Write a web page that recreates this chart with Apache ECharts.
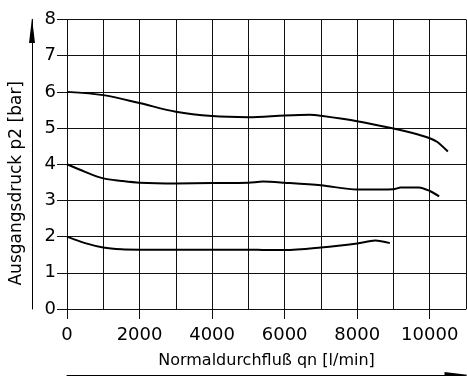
<!DOCTYPE html>
<html>
<head>
<meta charset="utf-8">
<script src="https://cdn.jsdelivr.net/npm/echarts@6/dist/echarts.min.js"></script>
<style>html,body{margin:0;padding:0;background:#fff}#c{width:467px;height:376px}</style>
</head>
<body>
<div id="c"></div>
<script>
// Flow rate (l/min) / outlet pressure (bar) pairs for each curve
const flow6 = [0, 1000, 2000, 3000, 4000, 5000, 6000, 6700, 7000, 8000, 9000, 9500, 10000, 10200, 10500];
const pres6 = [6.0, 5.91, 5.69, 5.45, 5.33, 5.30, 5.35, 5.37, 5.34, 5.19, 4.99, 4.87, 4.72, 4.62, 4.35];

const flow4 = [0, 500, 1000, 1500, 2000, 3000, 4000, 5000, 5400, 6000, 7000, 8000, 9000, 9200, 9700, 10000, 10260];
const pres4 = [4.0, 3.79, 3.61, 3.54, 3.49, 3.47, 3.48, 3.49, 3.52, 3.49, 3.42, 3.30, 3.31, 3.36, 3.36, 3.26, 3.11];

const flow2 = [0, 500, 1000, 1500, 2000, 3000, 4000, 5000, 5500, 6000, 7000, 8000, 8500, 8900];
const pres2 = [2.0, 1.82, 1.70, 1.65, 1.64, 1.64, 1.64, 1.64, 1.63, 1.63, 1.70, 1.81, 1.89, 1.82];

const xLabelTicks = [0, 2000, 4000, 6000, 8000, 10000];
const xName = 'Normaldurchfluß qn [l/min]';
const yName = 'Ausgangsdruck p2 [bar]';

function pairs(xs, ys) { return xs.map((x, i) => [x, ys[i]]); }

const chart = echarts.init(document.getElementById('c'), null, {renderer: 'canvas'});
const FONT = 'DejaVu Sans';
const GRID = '#111';
const lineStyle = {color: '#000', width: 2};
chart.setOption({
  animation: false,
  grid: {left: 67, right: 1, top: 19.5, bottom: 67},
  xAxis: [{
    type: 'value', min: 0, max: 11000, interval: 1000,
    name: xName, nameLocation: 'middle', nameGap: 44,
    nameTextStyle: {fontFamily: FONT, fontSize: 16, color: '#000'},
    axisLine: {show: true, onZero: false, lineStyle: {color: GRID, width: 1}},
    axisTick: {show: true, customValues: xLabelTicks, length: 10, lineStyle: {color: GRID}},
    axisLabel: {customValues: xLabelTicks, formatter: v => String(v), fontFamily: FONT, fontSize: 18, color: '#000', margin: 17},
    splitLine: {show: true, lineStyle: {color: GRID, width: 1}}
  }, {
    type: 'value', min: 0, max: 11000, position: 'bottom', offset: 66,
    axisLine: {show: true, onZero: false, lineStyle: {color: '#000', width: 1}, symbol: ['none', 'triangle'], symbolSize: [6, 25], symbolOffset: [0, -9]},
    axisTick: {show: false}, axisLabel: {show: false}, splitLine: {show: false}
  }, {
    type: 'value', min: 0, max: 11000, interval: 1000, position: 'top',
    axisLine: {show: false, onZero: false}, axisTick: {show: false}, axisLabel: {show: false},
    splitLine: {show: true, lineStyle: {color: GRID, width: 1}}
  }],
  yAxis: [{
    type: 'value', min: 0, max: 8, interval: 1,
    name: yName, nameLocation: 'middle', nameGap: 42,
    nameTextStyle: {fontFamily: FONT, fontSize: 17, color: '#000', padding: [0, 38, 0, 0]},
    axisLine: {show: true, onZero: false, lineStyle: {color: GRID, width: 1}},
    axisTick: {show: true, length: 10, lineStyle: {color: GRID}},
    axisLabel: {fontFamily: FONT, fontSize: 18, color: '#000', margin: 11},
    splitLine: {show: true, lineStyle: {color: GRID, width: 1}}
  }, {
    type: 'value', min: 0, max: 8, position: 'left', offset: 35,
    axisLine: {show: true, onZero: false, lineStyle: {color: '#000', width: 1}, symbol: ['none', 'triangle'], symbolSize: [6, 25], symbolOffset: [0, -11]},
    axisTick: {show: false}, axisLabel: {show: false}, splitLine: {show: false}
  }],
  series: [
    {type: 'line', data: pairs(flow6, pres6), smooth: 0.3, showSymbol: false, lineStyle: lineStyle},
    {type: 'line', data: pairs(flow4, pres4), smooth: 0.3, showSymbol: false, lineStyle: lineStyle},
    {type: 'line', data: pairs(flow2, pres2), smooth: 0.3, showSymbol: false, lineStyle: lineStyle}
  ]
});
</script>
</body>
</html>
